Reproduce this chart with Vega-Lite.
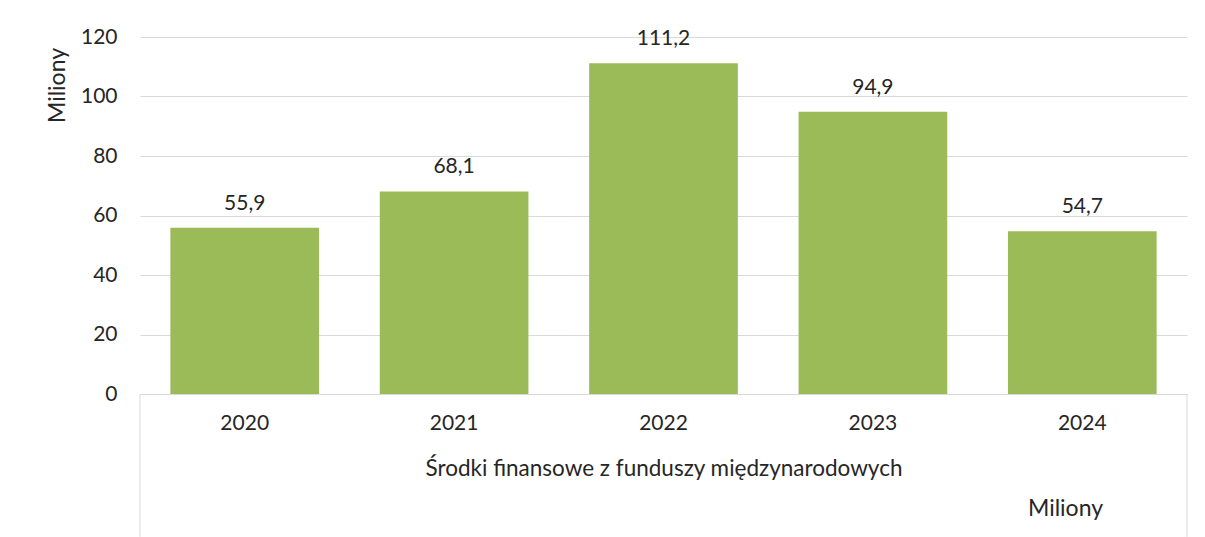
{
  "$schema": "https://vega.github.io/schema/vega-lite/v6.json",
  "width": 1047,
  "height": 357,
  "autosize": "none",
  "padding": {"left": 140, "top": 37, "right": 18, "bottom": 143},
  "background": "white",
  "config": {
    "font": "Lato",
    "view": {"stroke": null},
    "locale": {"number": {"decimal": ",", "thousands": " ", "grouping": [3], "currency": ["", " zł"]}}
  },
  "resolve": {"axis": {"x": "independent"}},
  "data": {
    "values": [
      {"year": "2020", "value": 55.9},
      {"year": "2021", "value": 68.1},
      {"year": "2022", "value": 111.2},
      {"year": "2023", "value": 94.9},
      {"year": "2024", "value": 54.7}
    ]
  },
  "layer": [
    {
      "mark": {"type": "bar", "color": "#9bbb59"},
      "encoding": {
        "x": {
          "field": "year",
          "type": "ordinal",
          "scale": {"paddingInner": 0.29, "paddingOuter": 0.145},
          "axis": {
            "orient": "bottom",
            "title": "Środki finansowe z funduszy międzynarodowych",
            "labelAngle": 0,
            "labelFontSize": 21,
            "labelColor": "#262626",
            "labelBaseline": "middle",
            "labelPadding": 29,
            "ticks": false,
            "tickSize": 0,
            "domainColor": "#d9d9d9",
            "domainWidth": 1,
            "titleFontSize": 22.5,
            "titleFontWeight": "normal",
            "titleColor": "#262626",
            "titlePadding": 24
          }
        },
        "y": {
          "field": "value",
          "type": "quantitative",
          "scale": {"domain": [0, 120]},
          "axis": {
            "title": "Miliony",
            "values": [0, 20, 40, 60, 80, 100, 120],
            "grid": true,
            "gridColor": "#d9d9d9",
            "gridWidth": 1,
            "domain": false,
            "ticks": false,
            "tickSize": 0,
            "labelPadding": 23,
            "labelFontSize": 21,
            "labelColor": "#262626",
            "titleFontSize": 23,
            "titleFontWeight": "normal",
            "titleColor": "#262626",
            "titleAngle": -90,
            "titleAlign": "center",
            "titleBaseline": "middle",
            "titleX": -83,
            "titleY": 48
          }
        }
      }
    },
    {
      "mark": {"type": "text", "baseline": "bottom", "dy": -14, "fontSize": 21, "color": "#262626"},
      "encoding": {
        "x": {"field": "year", "type": "ordinal", "axis": null},
        "y": {"field": "value", "type": "quantitative"},
        "text": {"field": "value", "type": "quantitative", "format": ".1f"}
      }
    },
    {
      "transform": [{"filter": "datum.year === '2020'"}],
      "mark": {"type": "rule", "color": "#d9d9d9", "strokeWidth": 1},
      "encoding": {
        "x": {"field": "year", "type": "ordinal", "bandPosition": -0.2045, "axis": null},
        "y": {"datum": 0, "type": "quantitative"},
        "y2": {"datum": -48}
      }
    },
    {
      "transform": [{"filter": "datum.year === '2024'"}],
      "mark": {"type": "rule", "color": "#d9d9d9", "strokeWidth": 1},
      "encoding": {
        "x": {
          "field": "year",
          "type": "ordinal",
          "bandPosition": 1.2045,
          "axis": {
            "orient": "bottom",
            "title": "Miliony",
            "labels": false,
            "ticks": false,
            "domain": false,
            "grid": false,
            "titleFontSize": 23,
            "titleFontWeight": "normal",
            "titleColor": "#262626",
            "titleAlign": "center",
            "titleBaseline": "middle",
            "titleX": 925,
            "titleY": 114
          }
        },
        "y": {"datum": 0, "type": "quantitative"},
        "y2": {"datum": -48}
      }
    }
  ]
}
